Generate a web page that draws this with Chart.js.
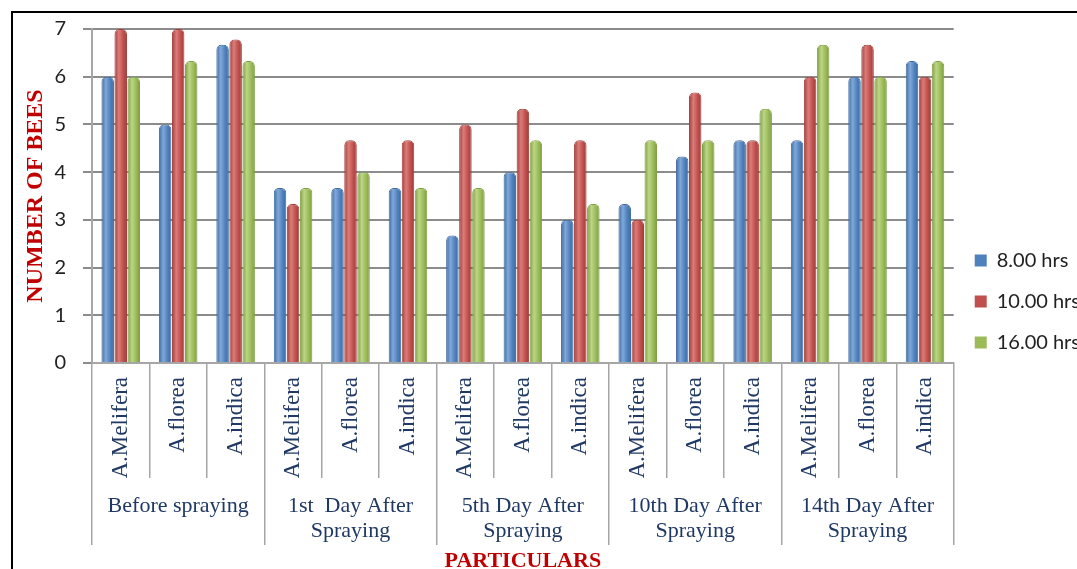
<!DOCTYPE html>
<html>
<head>
<meta charset="utf-8">
<script src="https://cdn.jsdelivr.net/npm/chart.js@4.4.0/dist/chart.umd.min.js"></script>
<style>
  html, body { margin: 0; padding: 0; background: #fff; overflow: hidden; }
  #wrap { position: relative; width: 1077px; height: 569px; overflow: hidden; }
  #frame { position: absolute; left: 11px; top: 11px; width: 2000px; height: 2000px;
           border-top: 2px solid #000; border-left: 2px solid #000; }
  #box { position: absolute; left: 0; top: 0; width: 1090px; height: 578px; }
</style>
</head>
<body>
<div id="wrap">
  <div id="frame"></div>
  <div id="box"><canvas id="bees"></canvas></div>
</div>
<script>
var groups = ["Before spraying", ["1st  Day After", "Spraying"], ["5th Day After", "Spraying"],
              ["10th Day After", "Spraying"], ["14th Day After", "Spraying"]];
var species = ["A.Melifera", "A.florea", "A.indica"];
var yTicks = [0, 1, 2, 3, 4, 5, 6, 7];

var hrs8  = [6, 5, 6.67, 3.67, 3.67, 3.67, 2.67, 4, 3, 3.33, 4.33, 4.67, 4.67, 6, 6.33];
var hrs10 = [7, 7, 6.78, 3.33, 4.67, 4.67, 5, 5.33, 4.67, 3, 5.67, 4.67, 6, 6.67, 6];
var hrs16 = [6, 6.33, 6.33, 3.67, 4, 3.67, 3.67, 4.67, 3.33, 4.67, 4.67, 5.33, 6.67, 6, 6.33];

var seriesColors = ["#4F81BD", "#C0504D", "#9BBB59"];

// one species label per bar, repeated for every period
var labels = [];
groups.forEach(function () { species.forEach(function (s) { labels.push(s); }); });

var navy = "#1F3864";
var serif = "'Liberation Serif', 'Times New Roman', serif";
var sans = "Lato, 'Open Sans', sans-serif";

// cylinder-ish shading: dark edge, light band, dark edge
function shade(base, dark, light) {
  return function (ctx) {
    var el = ctx.element;
    if (!el || !isFinite(el.x) || !el.width) return base;
    var g = ctx.chart.ctx.createLinearGradient(el.x - el.width / 2, 0, el.x + el.width / 2, 0);
    g.addColorStop(0, dark);
    g.addColorStop(0.35, light);
    g.addColorStop(0.7, base);
    g.addColorStop(1, dark);
    return g;
  };
}

var chart = new Chart(document.getElementById("bees"), {
  type: 'bar',
  data: {
    labels: labels,
    datasets: [
      { label: "8.00 hrs", data: hrs8, backgroundColor: shade(seriesColors[0], "#3D6A9E", "#80A8DA"),
        borderColor: "#3F6B9F", borderWidth: 1 },
      { label: "10.00 hrs", data: hrs10, backgroundColor: shade(seriesColors[1], "#9A3D3A", "#DC7C79"),
        borderColor: "#A03F3C", borderWidth: 1 },
      { label: "16.00 hrs", data: hrs16, backgroundColor: shade(seriesColors[2], "#7C9A44", "#BCD684"),
        borderColor: "#80A045", borderWidth: 1 }
    ]
  },
  options: {
    responsive: true,
    maintainAspectRatio: false,
    animation: false,
    datasets: { bar: { categoryPercentage: 0.68, barPercentage: 0.96, borderRadius: { topLeft: 5, topRight: 5 } } },
    layout: { padding: { left: 21, top: 16, bottom: 0, right: 0 } },
    plugins: {
      tooltip: { enabled: false },
      legend: {
        position: 'right',
        title: { display: true, text: ' ', font: { size: 6 }, padding: { top: 1, bottom: 1 } },
        labels: {
          boxWidth: 12, boxHeight: 12, padding: 21, color: "#222",
          font: { family: sans, size: 20 },
          generateLabels: function (c) {
            var items = Chart.defaults.plugins.legend.labels.generateLabels(c);
            items.forEach(function (it, i) {
              it.fillStyle = seriesColors[i];
              it.strokeStyle = seriesColors[i];
              it.lineWidth = 0;
            });
            return items;
          }
        }
      }
    },
    scales: {
      x: {
        type: 'category',
        offset: true,
        afterFit: function (s) { s.height = 115; },
        grid: { display: true, offset: true, drawOnChartArea: false, tickLength: 115, color: "#a6a6a6", lineWidth: 1.5 },
        border: { display: true, color: "#a6a6a6", width: 2 },
        ticks: {
          autoSkip: false, minRotation: 90, maxRotation: 90, padding: -101,
          color: navy, font: { family: serif, size: 23 }
        }
      },
      xg: {
        type: 'category',
        position: 'bottom',
        labels: groups,
        offset: true,
        afterFit: function (s) { s.height = 100; },
        grid: { display: true, offset: true, drawOnChartArea: false, tickLength: 67, color: "#a6a6a6", lineWidth: 1.5 },
        border: { display: false },
        ticks: { autoSkip: false, maxRotation: 0, padding: -51, color: navy,
                 font: { family: serif, size: 22, lineHeight: 1.12 } },
        title: {
          display: true, text: "PARTICULARS", color: "#C00000", padding: { top: 0, bottom: 3 },
          font: { family: serif, size: 22, weight: 'bold' }
        }
      },
      y: {
        min: 0, max: 7,
        afterFit: function (s) { s.width = 71; },
        afterBuildTicks: function (axis) { axis.ticks = yTicks.map(function (v) { return { value: v }; }); },
        grid: { color: "#8c8c8c", lineWidth: 2, tickLength: 9 },
        border: { display: true, color: "#a6a6a6", width: 2 },
        ticks: { padding: 17, color: "#222", font: { family: sans, size: 20 } },
        title: {
          display: true, text: "NUMBER OF BEES", color: "#C00000", padding: { top: 0, bottom: 5 },
          font: { family: serif, size: 24, weight: 'bold' }
        }
      }
    }
  }
});
// second pass so the gradient fills know each bar's position
chart.update();
</script>
</body>
</html>
